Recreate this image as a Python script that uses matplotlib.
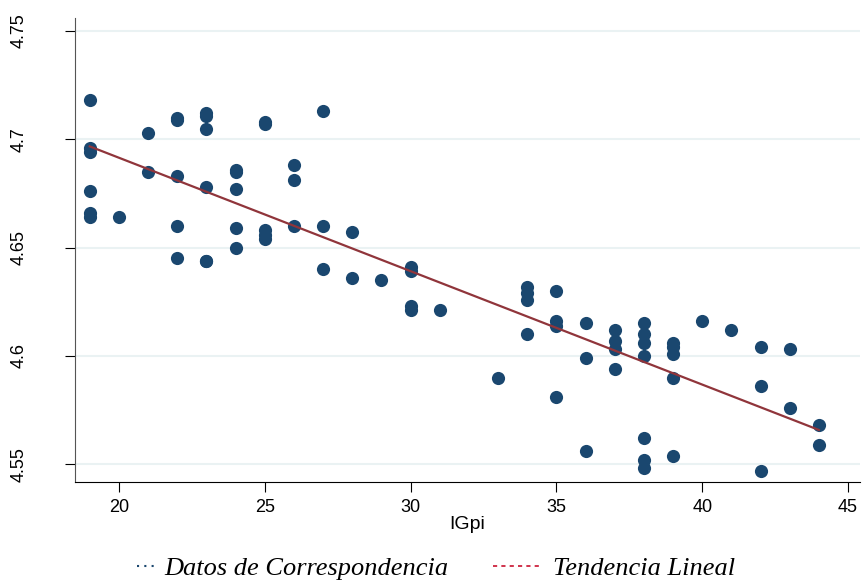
import numpy as np
import matplotlib.pyplot as plt
from matplotlib.lines import Line2D

plt.rcParams['font.family'] = ['Liberation Sans', 'DejaVu Sans']

# IGpi values and log response
igpi = [19, 19, 19, 19, 19, 19,
        20,
        21, 21,
        22, 22, 22, 22, 22,
        23, 23, 23, 23, 23, 23,
        24, 24, 24, 24, 24,
        25, 25, 25, 25, 25,
        26, 26, 26,
        27, 27, 27,
        28, 28,
        29,
        30, 30, 30, 30,
        31,
        33,
        34, 34, 34, 34,
        35, 35, 35, 35,
        36, 36, 36,
        37, 37, 37, 37,
        38, 38, 38, 38, 38, 38, 38,
        39, 39, 39, 39, 39,
        40,
        41,
        42, 42, 42,
        43, 43,
        44, 44]
valor = [4.718, 4.696, 4.694, 4.676, 4.666, 4.664,
         4.664,
         4.703, 4.685,
         4.710, 4.709, 4.683, 4.660, 4.645,
         4.712, 4.711, 4.705, 4.678, 4.644, 4.644,
         4.686, 4.685, 4.677, 4.659, 4.650,
         4.708, 4.707, 4.658, 4.656, 4.654,
         4.688, 4.681, 4.660,
         4.713, 4.660, 4.640,
         4.657, 4.636,
         4.635,
         4.641, 4.639, 4.623, 4.621,
         4.621,
         4.590,
         4.632, 4.629, 4.626, 4.610,
         4.630, 4.616, 4.614, 4.581,
         4.615, 4.599, 4.556,
         4.612, 4.607, 4.603, 4.594,
         4.615, 4.610, 4.606, 4.600, 4.562, 4.552, 4.548,
         4.606, 4.604, 4.601, 4.590, 4.554,
         4.616,
         4.612,
         4.604, 4.586, 4.547,
         4.603, 4.576,
         4.568, 4.559]

x = np.array(igpi, dtype=float)
y = np.array(valor)
b, a = np.polyfit(x, y, 1)
xs = np.array([x.min(), x.max()])

fig, ax = plt.subplots(figsize=(8.64, 5.83), dpi=100)
fig.subplots_adjust(left=0.087, right=0.995, bottom=0.173, top=0.969)

ax.scatter(x, y, s=90, color='#1a476f', zorder=3, linewidths=0)
ax.plot(xs, a + b * xs, color='#90353b', lw=1.6, zorder=4)

ax.set_xlim(18.5, 45.4)
ax.set_ylim(4.5417, 4.756)
ax.set_xticks([20, 25, 30, 35, 40, 45])
ax.set_yticks([4.55, 4.6, 4.65, 4.7, 4.75])
ax.set_yticklabels(['4.55', '4.6', '4.65', '4.7', '4.75'], rotation=90, va='center')
ax.yaxis.grid(True, color='#eaf2f3', lw=1.5)
ax.set_axisbelow(True)
ax.tick_params(direction='out', length=7, labelsize=13, color='black')
ax.tick_params(axis='y', pad=27)
ax.tick_params(axis='x', pad=5)
for s in ['top', 'right']:
    ax.spines[s].set_visible(False)
ax.spines['left'].set_color('#555555')
ax.set_xlabel('IGpi', fontsize=14, labelpad=0)

legfont = {'family': 'Liberation Serif', 'style': 'italic', 'size': 19}
h1 = Line2D([0], [0], color='#1a476f', ls=(0, (1, 2.5)), lw=1.5)
h2 = Line2D([0], [0], color='#c8102e', ls=(0, (2.5, 2.5)), lw=1.2)
leg1 = fig.legend([h1], ['Datos de Correspondencia'], loc='center left',
                  bbox_to_anchor=(0.158, 0.025), frameon=False, prop=legfont,
                  handlelength=0.75, handletextpad=0.3, borderpad=0, borderaxespad=0)
leg2 = fig.legend([h2], ['Tendencia Lineal'], loc='center left',
                  bbox_to_anchor=(0.571, 0.025), frameon=False, prop=legfont,
                  handlelength=1.9, handletextpad=0.35, borderpad=0, borderaxespad=0)

fig.savefig('out.png', dpi=100)
